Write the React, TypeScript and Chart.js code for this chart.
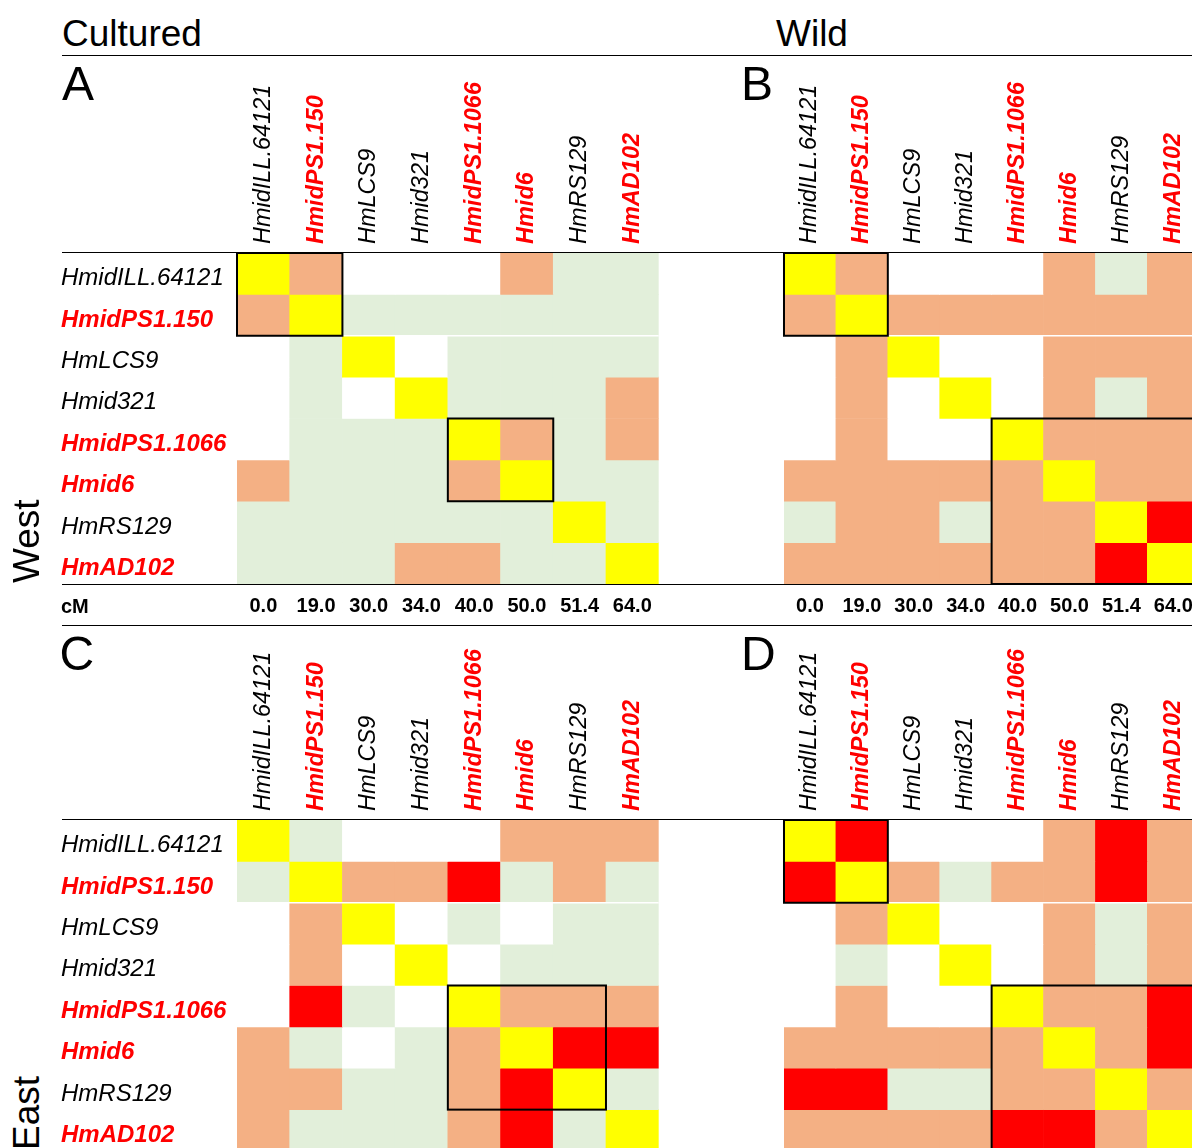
import React, { useEffect, useRef } from "react";
import { Chart, registerables } from "chart.js";

Chart.register(...registerables);

// ---------------- data ----------------
const markers = [
  "HmidILL.64121",
  "HmidPS1.150",
  "HmLCS9",
  "Hmid321",
  "HmidPS1.1066",
  "Hmid6",
  "HmRS129",
  "HmAD102",
];
// markers highlighted (bold red)
const highlighted = [false, true, false, false, true, true, false, true];
// genetic map positions (cM)
const cMPositions = ["0.0", "19.0", "30.0", "34.0", "40.0", "50.0", "51.4", "64.0"];

// LD classes per pair: Y = diagonal, W = none, G = light, S = moderate, R = strong
const panelA = [
  "YSWWWSGG",
  "SYGGGGGG",
  "WGYWGGGG",
  "WGWYGGGS",
  "WGGGYSGS",
  "SGGGSYGG",
  "GGGGGGYG",
  "GGGSSGGY",
];
const panelB = [
  "YSWWWSGS",
  "SYSSSSSS",
  "WSYWWSSS",
  "WSWYWSGS",
  "WSWWYSSS",
  "SSSSSYSS",
  "GSSGSSYR",
  "SSSSSSRY",
];
const panelC = [
  "YGWWWSSS",
  "GYSSRGSG",
  "WSYWGWGG",
  "WSWYWGGG",
  "WRGWYSSS",
  "SGWGSYRR",
  "SSGGSRYG",
  "SGGGSRGY",
];
const panelD = [
  "YRWWWSRS",
  "RYSGSSRS",
  "WSYWWSGS",
  "WGWYWSGS",
  "WSWWYSSR",
  "SSSSSYSR",
  "RRGGSSYS",
  "SSSSRRSY",
];
// linkage blocks outlined: [firstRow, firstCol, lastRow, lastCol]
const blocksA = [[0, 0, 1, 1], [4, 4, 5, 5]];
const blocksB = [[0, 0, 1, 1], [4, 4, 7, 7]];
const blocksC = [[4, 4, 6, 6]];
const blocksD = [[0, 0, 1, 1], [4, 4, 7, 7]];

// ---------------- styles ----------------
const palette: Record<string, string> = {
  Y: "#FFFF00",
  W: "#FFFFFF",
  G: "#E2EFDA",
  S: "#F4B084",
  R: "#FF0000",
};
const SANS = "'Liberation Sans', Arial, sans-serif";
const RED = "#FF0000";
const COL_LABEL_SIZE = 23.5;
const ROW_LABEL_SIZE = 24;

const makeMarkerFont = (size: number) => (c: any) => ({
  family: SANS,
  size,
  style: "italic" as const,
  weight: highlighted[c.index] ? ("bold" as const) : ("normal" as const),
  lineHeight: 1.2,
});
const markerColor = (c: any) => (highlighted[c.index] ? RED : "#000000");

const blockPlugin = {
  id: "ldBlocks",
  afterDatasetsDraw(chart: any, _args: any, opts: any) {
    const xs = chart.scales.x;
    const ys = chart.scales.y;
    const n = xs.getLabels().length;
    const bw = (xs.right - xs.left) / n;
    const ctx = chart.ctx;
    ctx.save();
    // thin white separator below the second row
    ctx.strokeStyle = "#FFFFFF";
    ctx.lineWidth = 1.5;
    ctx.beginPath();
    const ys2 = ys.getPixelForValue(2);
    ctx.moveTo(xs.left, ys2);
    ctx.lineTo(xs.right, ys2);
    ctx.stroke();
    ctx.strokeStyle = "#000000";
    ctx.lineWidth = 2;
    for (const [r0, c0, r1, c1] of opts.blocks || []) {
      const x0 = xs.getPixelForValue(c0) - bw / 2;
      const x1 = xs.getPixelForValue(c1) + bw / 2;
      const y0 = ys.getPixelForValue(r0);
      const y1 = ys.getPixelForValue(r1 + 1);
      ctx.strokeRect(x0, y0, x1 - x0, y1 - y0);
    }
    ctx.restore();
  },
};

type PanelProps = {
  matrix: string[];
  blocks: number[][];
  left: number;
  top: number;
  width: number;
  height: number;
  rowLabelWidth: number;
  headerHeight: number;
  cmHeight: number;
};

function Panel(p: PanelProps) {
  const ref = useRef<HTMLCanvasElement>(null);
  useEffect(() => {
    if (!ref.current) return;
    const scales: any = {
      x: {
        type: "category",
        position: "top",
        stacked: true,
        offset: true,
        grid: { display: false, drawTicks: false },
        border: { display: false },
        ticks: {
          autoSkip: false,
          minRotation: 90,
          maxRotation: 90,
          padding: 9,
          labelOffset: COL_LABEL_SIZE * 1.2,
          font: makeMarkerFont(COL_LABEL_SIZE),
          color: markerColor,
        },
        afterFit: (s: any) => {
          s.height = p.headerHeight;
        },
      },
      y: {
        type: "linear",
        stacked: true,
        min: 0,
        max: markers.length,
        reverse: true,
        display: false,
      },
    };
    if (p.rowLabelWidth > 0) {
      scales.yl = {
        type: "category",
        labels: markers,
        position: "left",
        offset: true,
        grid: { display: false, drawTicks: false },
        border: { display: false },
        ticks: {
          autoSkip: false,
          crossAlign: "far",
          labelOffset: 5,
          font: makeMarkerFont(ROW_LABEL_SIZE),
          color: markerColor,
        },
        afterFit: (s: any) => {
          s.width = p.rowLabelWidth;
        },
      };
    }
    scales.xcm = {
      type: "category",
      labels: cMPositions,
      position: "bottom",
      offset: true,
      grid: { display: false, drawTicks: false },
      border: { display: false },
      ticks: {
        autoSkip: false,
        maxRotation: 0,
        padding: 10,
        font: { family: SANS, size: 20, weight: "bold", lineHeight: 1.2 },
        color: "#000000",
      },
      afterFit: (s: any) => {
        s.height = p.cmHeight;
      },
    };
    const chart = new Chart(ref.current, {
      type: "bar",
      data: {
        labels: markers,
        datasets: p.matrix.map((row, r) => ({
          label: markers[r],
          data: markers.map(() => 1),
          backgroundColor: row.split("").map((k) => palette[k]),
          borderWidth: 0,
          barPercentage: 1,
          categoryPercentage: 1,
          xAxisID: "x",
          yAxisID: "y",
        })),
      },
      options: {
        responsive: false,
        maintainAspectRatio: false,
        animation: false,
        events: [],
        layout: { padding: 0 },
        plugins: {
          legend: { display: false },
          tooltip: { enabled: false },
          ldBlocks: { blocks: p.blocks },
        } as any,
        scales,
      },
      plugins: [blockPlugin as any],
    });
    return () => chart.destroy();
  }, []);
  return (
    <canvas
      ref={ref}
      width={p.width}
      height={p.height}
      style={{ position: "absolute", left: p.left, top: p.top, width: p.width, height: p.height }}
    />
  );
}

const rule = (top: number) => (
  <div
    key={"r" + top}
    style={{ position: "absolute", left: 62, top, width: 1130, height: 1, background: "#000" }}
  />
);

const text = (
  s: string,
  left: number,
  top: number,
  size: number,
  extra: React.CSSProperties = {}
) => (
  <div
    key={s + left + top}
    style={{
      position: "absolute",
      left,
      top,
      fontFamily: SANS,
      fontSize: size,
      lineHeight: size + "px",
      whiteSpace: "nowrap",
      color: "#000",
      ...extra,
    }}
  >
    {s}
  </div>
);

export default function App() {
  return (
    <div
      style={{
        position: "absolute",
        left: 0,
        top: 0,
        width: 1192,
        height: 1148,
        overflow: "hidden",
        background: "#fff",
      }}
    >
      <Panel matrix={panelA} blocks={blocksA} left={61} top={60} width={601} height={565}
        rowLabelWidth={176} headerHeight={193} cmHeight={41} />
      <Panel matrix={panelB} blocks={blocksB} left={772} top={60} width={431} height={565}
        rowLabelWidth={0} headerHeight={193} cmHeight={41} />
      <Panel matrix={panelC} blocks={blocksC} left={61} top={627} width={601} height={565}
        rowLabelWidth={176} headerHeight={193} cmHeight={41} />
      <Panel matrix={panelD} blocks={blocksD} left={772} top={627} width={431} height={565}
        rowLabelWidth={0} headerHeight={193} cmHeight={41} />

      {[55, 252, 584, 625, 819].map(rule)}

      {text("Cultured", 62, 15.4, 37)}
      {text("Wild", 776, 15.4, 37)}
      {text("A", 62, 60.4, 48)}
      {text("B", 741, 60.4, 48)}
      {text("C", 59.5, 629.5, 48)}
      {text("D", 741, 629.5, 48)}
      {text("cM", 61, 595.5, 20, { fontWeight: "bold" })}
      {text("West", 8, 582.5, 37, { transform: "rotate(-90deg)", transformOrigin: "0 0" })}
      {text("East", 8, 1150, 37, { transform: "rotate(-90deg)", transformOrigin: "0 0" })}
    </div>
  );
}
